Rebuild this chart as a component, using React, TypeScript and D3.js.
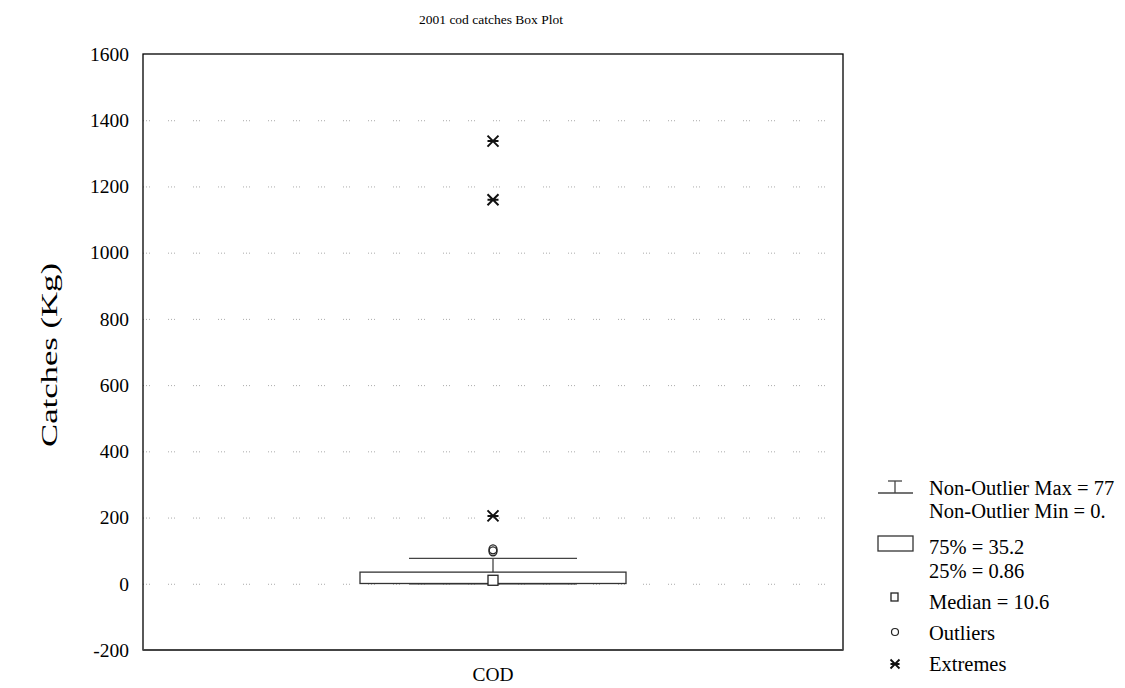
import React, { useRef, useEffect } from 'react';
import * as d3 from 'd3';

// summary stats
const category = 'COD';
const boxQ1 = 0.86;
const boxQ3 = 35.2;
const median = 10.6;
const whiskerMin = 0;
const whiskerMax = 77;
const outliers = [98, 104];
const extremes = [205, 1160, 1337];
const yTicks = [-200, 0, 200, 400, 600, 800, 1000, 1200, 1400, 1600];
const legendLines = [
  'Non-Outlier Max = 77',
  'Non-Outlier Min = 0.',
  '75% = 35.2',
  '25% = 0.86',
  'Median = 10.6',
  'Outliers',
  'Extremes',
];

const W = 1125;
const H = 688;
const FONT = '"Liberation Serif", "Times New Roman", serif';

const App: React.FC = () => {
  const svgRef = useRef<SVGSVGElement>(null);

  useEffect(() => {
    const svg = d3.select(svgRef.current);
    svg.selectAll('*').remove();

    const left = 143, right = 843, top = 54, bottom = 650;

    const y = d3.scaleLinear().domain([-200, 1600]).range([bottom, top]);
    const x = d3.scaleBand().domain([category]).range([left, right]);
    const cx = x(category)! + x.bandwidth() / 2;

    // grid
    svg.append('g')
      .selectAll('line')
      .data(yTicks.filter(t => t > -200 && t < 1600))
      .enter()
      .append('line')
      .attr('x1', left).attr('x2', right)
      .attr('y1', d => y(d) + 0.5).attr('y2', d => y(d) + 0.5)
      .attr('stroke', '#aaa')
      .attr('stroke-width', 1)
      .attr('stroke-dasharray', '1,2,1,2,1,18');

    // frame
    svg.append('rect')
      .attr('x', left).attr('y', top)
      .attr('width', right - left).attr('height', bottom - top)
      .attr('fill', 'none')
      .attr('stroke', '#000')
      .attr('stroke-width', 1.3);
    svg.append('line')
      .attr('x1', left).attr('x2', right).attr('y1', bottom).attr('y2', bottom)
      .attr('stroke', '#444').attr('stroke-width', 2);

    // y axis
    const yAxis = svg.append('g')
      .attr('transform', `translate(${left},0)`)
      .call(d3.axisLeft(y).tickValues(yTicks).tickSize(0).tickFormat(d => String(d)));
    yAxis.select('.domain').remove();
    yAxis.selectAll('text')
      .attr('font-family', FONT)
      .attr('font-size', 19.5)
      .attr('fill', '#000')
      .attr('x', -14);

    // x label
    svg.append('text')
      .attr('x', cx).attr('y', 681)
      .attr('text-anchor', 'middle')
      .attr('font-family', FONT).attr('font-size', 18)
      .attr('textLength', 41).attr('lengthAdjust', 'spacingAndGlyphs')
      .text(category);

    // y title
    svg.append('text')
      .attr('transform', `translate(57,${355}) rotate(-90)`)
      .attr('text-anchor', 'middle')
      .attr('font-family', FONT).attr('font-size', 24)
      .attr('textLength', 184).attr('lengthAdjust', 'spacingAndGlyphs')
      .text('Catches (Kg)');

    // title
    svg.append('text')
      .attr('x', 491).attr('y', 24)
      .attr('text-anchor', 'middle')
      .attr('font-family', FONT).attr('font-size', 13.5)
      .text('2001 cod catches Box Plot');

    const g = svg.append('g');
    const boxHalf = 133;
    const capHalf = 84;

    // whisker
    g.append('line')
      .attr('x1', cx).attr('x2', cx)
      .attr('y1', y(whiskerMax)).attr('y2', y(whiskerMin))
      .attr('stroke', '#444').attr('stroke-width', 1.3);
    [whiskerMax, whiskerMin].forEach(v => {
      g.append('line')
        .attr('x1', cx - capHalf).attr('x2', cx + capHalf)
        .attr('y1', y(v)).attr('y2', y(v))
        .attr('stroke', '#444').attr('stroke-width', 1.3);
    });

    // box
    g.append('rect')
      .attr('x', cx - boxHalf).attr('width', boxHalf * 2)
      .attr('y', y(boxQ3)).attr('height', y(boxQ1) - y(boxQ3))
      .attr('fill', '#fff')
      .attr('stroke', '#333').attr('stroke-width', 1.3);

    // median
    g.append('rect')
      .attr('x', cx - 5).attr('y', y(median) - 5)
      .attr('width', 10).attr('height', 10)
      .attr('fill', '#fff').attr('stroke', '#222').attr('stroke-width', 1.3);

    // outliers
    g.selectAll('ellipse.out')
      .data(outliers)
      .enter()
      .append('ellipse')
      .attr('cx', cx).attr('cy', d => y(d))
      .attr('rx', 4).attr('ry', 4.5)
      .attr('fill', 'none').attr('stroke', '#222').attr('stroke-width', 1.3);

    // extremes: X with a bar
    const extremeSym = (px: number, py: number, s: number) =>
      `M${px - s},${py - s}L${px + s},${py + s}M${px - s},${py + s}L${px + s},${py - s}M${px - s},${py}L${px + s},${py}`;
    g.selectAll('path.ext')
      .data(extremes)
      .enter()
      .append('path')
      .attr('d', d => extremeSym(cx, y(d), 5.5))
      .attr('fill', 'none').attr('stroke', '#111').attr('stroke-width', 2);

    // legend
    const lg = svg.append('g');
    const tx = 929;
    const addText = (t: string, ty: number) =>
      lg.append('text').attr('x', tx).attr('y', ty)
        .attr('font-family', FONT).attr('font-size', 20.5).text(t);
    const lineY = [495, 518, 554, 578, 609, 640, 671];
    legendLines.forEach((t, i) => addText(t, lineY[i]));

    // whisker symbol
    lg.append('line').attr('x1', 878).attr('x2', 913).attr('y1', 493).attr('y2', 493)
      .attr('stroke', '#444').attr('stroke-width', 1.3);
    lg.append('line').attr('x1', 895).attr('x2', 895).attr('y1', 481).attr('y2', 493)
      .attr('stroke', '#444').attr('stroke-width', 1.3);
    lg.append('line').attr('x1', 888).attr('x2', 902).attr('y1', 481).attr('y2', 481)
      .attr('stroke', '#444').attr('stroke-width', 1.3);
    // box symbol
    lg.append('rect').attr('x', 878).attr('y', 536).attr('width', 35).attr('height', 15)
      .attr('fill', '#fff').attr('stroke', '#333').attr('stroke-width', 1.3);
    // median symbol
    lg.append('rect').attr('x', 891).attr('y', 593).attr('width', 7).attr('height', 8)
      .attr('fill', '#fff').attr('stroke', '#222').attr('stroke-width', 1.3);
    // outlier symbol
    lg.append('circle').attr('cx', 895).attr('cy', 632).attr('r', 3.5)
      .attr('fill', 'none').attr('stroke', '#222').attr('stroke-width', 1.2);
    // extreme symbol
    lg.append('path').attr('d', extremeSym(895, 664, 4.5))
      .attr('fill', 'none').attr('stroke', '#111').attr('stroke-width', 1.8);
  }, []);

  return (
    <svg ref={svgRef} width={W} height={H}
      style={{ position: 'absolute', left: 0, top: 0, background: '#fff' }} />
  );
};

export default App;
